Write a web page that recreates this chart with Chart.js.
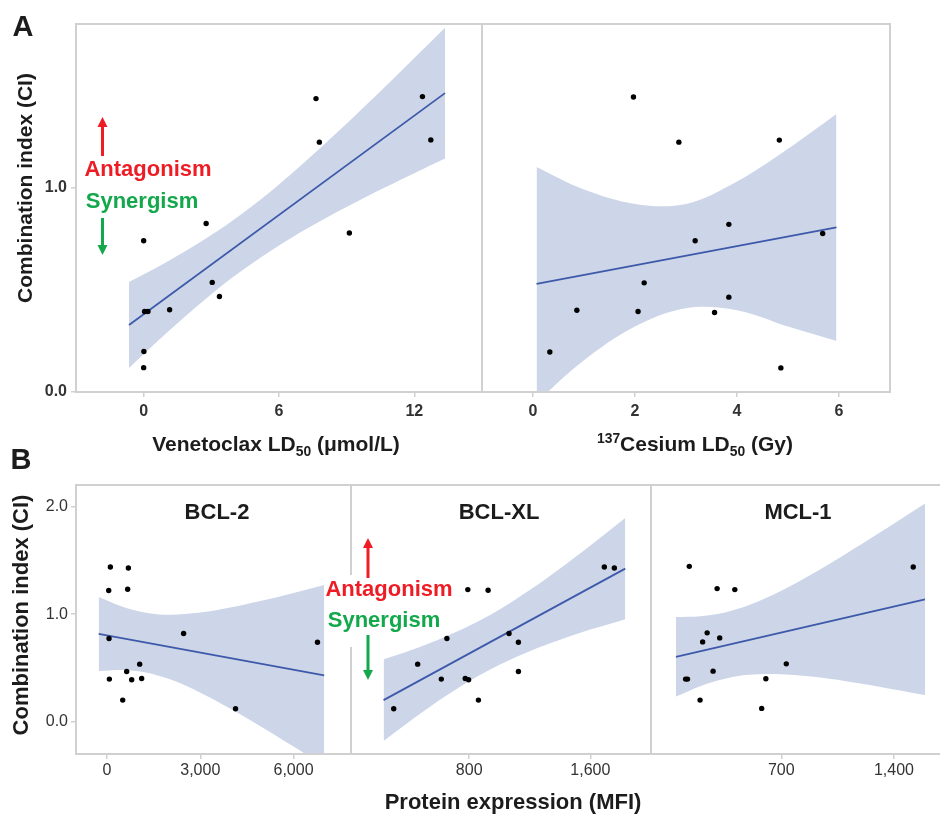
<!DOCTYPE html>
<html>
<head>
<meta charset="utf-8">
<script src="https://cdn.jsdelivr.net/npm/chart.js@4.4.1/dist/chart.umd.min.js"></script>
<style>
body { margin: 0; width: 940px; height: 815px; position: relative; overflow: hidden; background: #fff;
       font-family: "Liberation Sans", Arial, sans-serif; }
canvas { position: absolute; }
.t { position: absolute; white-space: nowrap; font-weight: bold; color: #1c1c1c; line-height: 1;
     transform: translate(-50%, -50%); }
.rot { transform: translate(-50%, -50%) rotate(-90deg); }
sub, sup { font-size: 0.66em; line-height: 0; }
svg { position: absolute; left: 0; top: 0; }
</style>
</head>
<body>

<canvas id="aVen" width="452" height="403" style="left:30px;top:22px"></canvas>
<canvas id="aCs" width="410" height="403" style="left:482px;top:22px"></canvas>
<canvas id="bBcl2" width="321" height="307" style="left:30px;top:483px"></canvas>
<canvas id="bBclxl" width="300" height="307" style="left:351px;top:483px"></canvas>
<canvas id="bMcl1" width="292" height="307" style="left:651px;top:483px"></canvas>

<svg width="940" height="815">
  <rect x="345" y="575" width="12" height="72" fill="#fff"/>
  <line x1="102.5" y1="156" x2="102.5" y2="126" stroke="#ee1c25" stroke-width="3"/>
  <polygon points="97.5,127 107.5,127 102.5,117" fill="#ee1c25"/>
  <line x1="102.5" y1="218" x2="102.5" y2="246" stroke="#12a84b" stroke-width="3"/>
  <polygon points="97.5,245 107.5,245 102.5,255" fill="#12a84b"/>
  <line x1="368" y1="578" x2="368" y2="547" stroke="#ee1c25" stroke-width="3"/>
  <polygon points="363,548 373,548 368,538" fill="#ee1c25"/>
  <line x1="368" y1="635" x2="368" y2="671" stroke="#12a84b" stroke-width="3"/>
  <polygon points="363,670 373,670 368,680" fill="#12a84b"/>
</svg>

<div class="t" style="left:23px;top:26px;font-size:29px">A</div>
<div class="t" style="left:21px;top:459px;font-size:29px">B</div>

<div class="t rot" style="left:24px;top:188px;font-size:21px">Combination index (CI)</div>
<div class="t rot" style="left:21px;top:615px;font-size:22px">Combination index (CI)</div>

<div class="t" style="left:276px;top:443px;font-size:21px">Venetoclax LD<sub>50</sub> (μmol/L)</div>
<div class="t" style="left:695px;top:443px;font-size:21px"><sup>137</sup>Cesium LD<sub>50</sub> (Gy)</div>
<div class="t" style="left:513px;top:802px;font-size:22px">Protein expression (MFI)</div>

<div class="t" style="left:217px;top:512px;font-size:22px">BCL-2</div>
<div class="t" style="left:499px;top:512px;font-size:22px">BCL-XL</div>
<div class="t" style="left:798px;top:512px;font-size:22px">MCL-1</div>

<div class="t" style="left:148px;top:169px;font-size:22px;color:#ee1c25">Antagonism</div>
<div class="t" style="left:142px;top:201px;font-size:22px;color:#12a84b">Synergism</div>
<div class="t" style="left:389px;top:589px;font-size:22px;color:#ee1c25">Antagonism</div>
<div class="t" style="left:384px;top:620px;font-size:22px;color:#12a84b">Synergism</div>

<script>
// ---- A: venetoclax LD50 vs CI
const venX = [0, 7.64, 12.36, 7.79, 12.73, 2.77, 9.12, 3.04, 3.36, 1.15, 0.04, 0.19, 0.01, 0];
const venCI = [0.74, 1.435, 1.445, 1.222, 1.233, 0.824, 0.778, 0.536, 0.467, 0.402, 0.394, 0.394, 0.198, 0.119];
const venFitX = [-0.65, 13.36];
const venFitY = [0.328, 1.462];
const venBandX = [-0.65, 1, 3, 4.3, 6, 8, 10, 12, 13.36];
const venBandHi = [0.538, 0.635, 0.768, 0.867, 1.015, 1.21, 1.418, 1.634, 1.782];
const venBandLo = [0.118, 0.287, 0.478, 0.589, 0.717, 0.846, 0.962, 1.07, 1.142];

// ---- A: 137Cs LD50 vs CI
const csX = [1.97, 2.86, 4.83, 3.84, 3.18, 5.68, 2.18, 3.84, 0.86, 2.06, 3.56, 0.33, 4.86];
const csCI = [1.443, 1.222, 1.232, 0.82, 0.74, 0.775, 0.534, 0.464, 0.40, 0.394, 0.389, 0.196, 0.118];
const csFitX = [0.07, 5.95];
const csFitY = [0.529, 0.805];
const csBandX = [0.07, 1, 2, 3, 4, 5, 5.95];
const csBandHi = [1.10, 0.99, 0.92, 0.92, 1.03, 1.19, 1.36];
const csBandLo = [-0.05, 0.155, 0.32, 0.41, 0.40, 0.32, 0.25];

// ---- B: BCL-2 MFI vs CI
const bcl2X = [106, 685, 53, 663, 63, 2463, 6771, 1049, 631, 74, 792, 1113, 503, 4135];
const bcl2CI = [1.438, 1.428, 1.219, 1.231, 0.774, 0.82, 0.739, 0.535, 0.467, 0.396, 0.39, 0.402, 0.201, 0.121];
const bcl2FitX = [-270, 6986];
const bcl2FitY = [0.816, 0.43];
const bcl2BandX = [-270, 500, 1200, 2000, 3000, 4000, 5000, 6000, 6986];
const bcl2BandHi = [1.16, 1.069, 1.016, 0.994, 1.014, 1.063, 1.126, 1.197, 1.27];
const bcl2BandLo = [0.472, 0.481, 0.46, 0.396, 0.27, 0.115, -0.054, -0.231, -0.41];

// ---- B: BCL-XL MFI vs CI
const bclxlX = [1692, 1758, 791, 925, 1063, 1125, 653, 460, 1125, 616, 774, 796, 861, 302];
const bclxlCI = [1.438, 1.428, 1.228, 1.222, 0.82, 0.739, 0.774, 0.535, 0.467, 0.396, 0.402, 0.39, 0.201, 0.121];
const bclxlFitX = [235, 1830];
const bclxlFitY = [0.201, 1.423];
const bclxlBandX = [235, 400, 600, 800, 1000, 1200, 1400, 1600, 1830];
const bclxlBandHi = [0.581, 0.658, 0.765, 0.891, 1.044, 1.224, 1.424, 1.638, 1.893];
const bclxlBandLo = [-0.179, -0.004, 0.197, 0.377, 0.53, 0.656, 0.762, 0.856, 0.953];

// ---- B: MCL-1 MFI vs CI
const mcl1X = [128, 1520, 301, 411, 239, 211, 317, 731, 276, 117, 105, 604, 195, 578];
const mcl1CI = [1.444, 1.438, 1.237, 1.228, 0.826, 0.742, 0.779, 0.538, 0.47, 0.396, 0.396, 0.399, 0.201, 0.124];
const mcl1FitX = [45, 1593];
const mcl1FitY = [0.603, 1.138];
const mcl1BandX = [45, 200, 350, 500, 700, 900, 1100, 1300, 1593];
const mcl1BandHi = [0.973, 0.981, 1.016, 1.084, 1.217, 1.379, 1.559, 1.746, 2.028];
const mcl1BandLo = [0.233, 0.333, 0.40, 0.436, 0.441, 0.417, 0.377, 0.328, 0.248];

// tick values
const venTicks = [0, 6, 12];
const csTicks = [0, 2, 4, 6];
const bcl2Ticks = [0, 3000, 6000];
const bclxlTicks = [800, 1600];
const mcl1Ticks = [700, 1400];
const ciTicksA = [0, 1];
const ciTicksB = [0, 1, 2];

const bandBlue = '#cdd6e9';
const lineBlue = '#3d59a9';
const frameGray = '#d0d0d0';

const framePlugin = {
  id: 'frame',
  afterDraw(chart) {
    const a = chart.chartArea, c = chart.ctx;
    c.save();
    c.strokeStyle = frameGray;
    c.lineWidth = 2;
    c.strokeRect(a.left, a.top, a.right - a.left, a.bottom - a.top);
    c.restore();
  }
};

function pts(xs, ys) {
  return xs.map((x, i) => ({ x: x, y: ys[i] }));
}

// keep the axes at a fixed size so the plot areas line up across canvases
function noPad(s) {
  s.paddingTop = 0; s.paddingBottom = 0; s.paddingLeft = 0; s.paddingRight = 0;
}

function panel(id, o) {
  const tickFont = { family: '"Liberation Sans", Arial', size: 16, weight: o.boldTicks ? 'bold' : 'normal' };
  return new Chart(document.getElementById(id), {
    type: 'scatter',
    data: {
      datasets: [
        { data: pts(o.x, o.y), pointRadius: 2.7, backgroundColor: '#000', borderWidth: 0 },
        { type: 'line', data: pts(o.fitX, o.fitY), borderColor: lineBlue, borderWidth: 1.8,
          pointRadius: 0, fill: false },
        { type: 'line', data: pts(o.bandX, o.hi), borderColor: 'rgba(0,0,0,0)', borderWidth: 0,
          pointRadius: 0, fill: '+1', backgroundColor: bandBlue, tension: 0.35 },
        { type: 'line', data: pts(o.bandX, o.lo), borderColor: 'rgba(0,0,0,0)', borderWidth: 0,
          pointRadius: 0, fill: false, tension: 0.35 }
      ]
    },
    options: {
      responsive: false,
      animation: false,
      events: [],
      layout: { autoPadding: false, padding: { top: 2, right: o.padRight || 0, left: 0, bottom: 0 } },
      plugins: { legend: { display: false }, tooltip: { enabled: false } },
      scales: {
        x: {
          type: 'linear', min: o.xMin, max: o.xMax,
          afterBuildTicks: s => { s.ticks = o.xTicks.map(v => ({ value: v })); },
          afterFit: s => { s.height = o.xH; noPad(s); },
          grid: { drawOnChartArea: false, tickLength: 5, color: frameGray, lineWidth: 1.5 },
          border: { display: false },
          ticks: { padding: o.xPad, font: tickFont, color: '#333', maxRotation: 0,
                   callback: v => v.toLocaleString('en-US') }
        },
        y: {
          type: 'linear', min: o.yMin, max: o.yMax, display: o.showY,
          afterBuildTicks: s => { s.ticks = o.yTicks.map(v => ({ value: v })); },
          afterFit: s => { s.width = o.showY ? 46 : 0; noPad(s); },
          grid: { drawOnChartArea: false, tickLength: 5, color: frameGray, lineWidth: 1.5 },
          border: { display: false },
          ticks: { padding: o.yPad, font: tickFont, color: '#333', callback: v => v.toFixed(1) }
        }
      }
    },
    plugins: [framePlugin]
  });
}

panel('aVen', { x: venX, y: venCI, fitX: venFitX, fitY: venFitY, bandX: venBandX, hi: venBandHi, lo: venBandLo,
  xMin: -3, xMax: 15, xTicks: venTicks, yMin: 0, yMax: 1.8, yTicks: ciTicksA, showY: true,
  xH: 33, xPad: 5, yPad: 4, boldTicks: true });
panel('aCs', { x: csX, y: csCI, fitX: csFitX, fitY: csFitY, bandX: csBandX, hi: csBandHi, lo: csBandLo,
  xMin: -1, xMax: 7, xTicks: csTicks, yMin: 0, yMax: 1.8, yTicks: ciTicksA, showY: false,
  xH: 33, xPad: 5, boldTicks: true, padRight: 2 });
panel('bBcl2', { x: bcl2X, y: bcl2CI, fitX: bcl2FitX, fitY: bcl2FitY, bandX: bcl2BandX, hi: bcl2BandHi, lo: bcl2BandLo,
  xMin: -1000, xMax: 7850, xTicks: bcl2Ticks, yMin: -0.3, yMax: 2.2, yTicks: ciTicksB, showY: true,
  xH: 36, xPad: 2, yPad: 3, boldTicks: false });
panel('bBclxl', { x: bclxlX, y: bclxlCI, fitX: bclxlFitX, fitY: bclxlFitY, bandX: bclxlBandX, hi: bclxlBandHi, lo: bclxlBandLo,
  xMin: 20, xMax: 2000, xTicks: bclxlTicks, yMin: -0.3, yMax: 2.2, yTicks: ciTicksB, showY: false,
  xH: 36, xPad: 2, boldTicks: false });
panel('bMcl1', { x: mcl1X, y: mcl1CI, fitX: mcl1FitX, fitY: mcl1FitY, bandX: mcl1BandX, hi: mcl1BandHi, lo: mcl1BandLo,
  xMin: -110, xMax: 1705, xTicks: mcl1Ticks, yMin: -0.3, yMax: 2.2, yTicks: ciTicksB, showY: false,
  xH: 36, xPad: 2, boldTicks: false });
</script>
</body>
</html>
